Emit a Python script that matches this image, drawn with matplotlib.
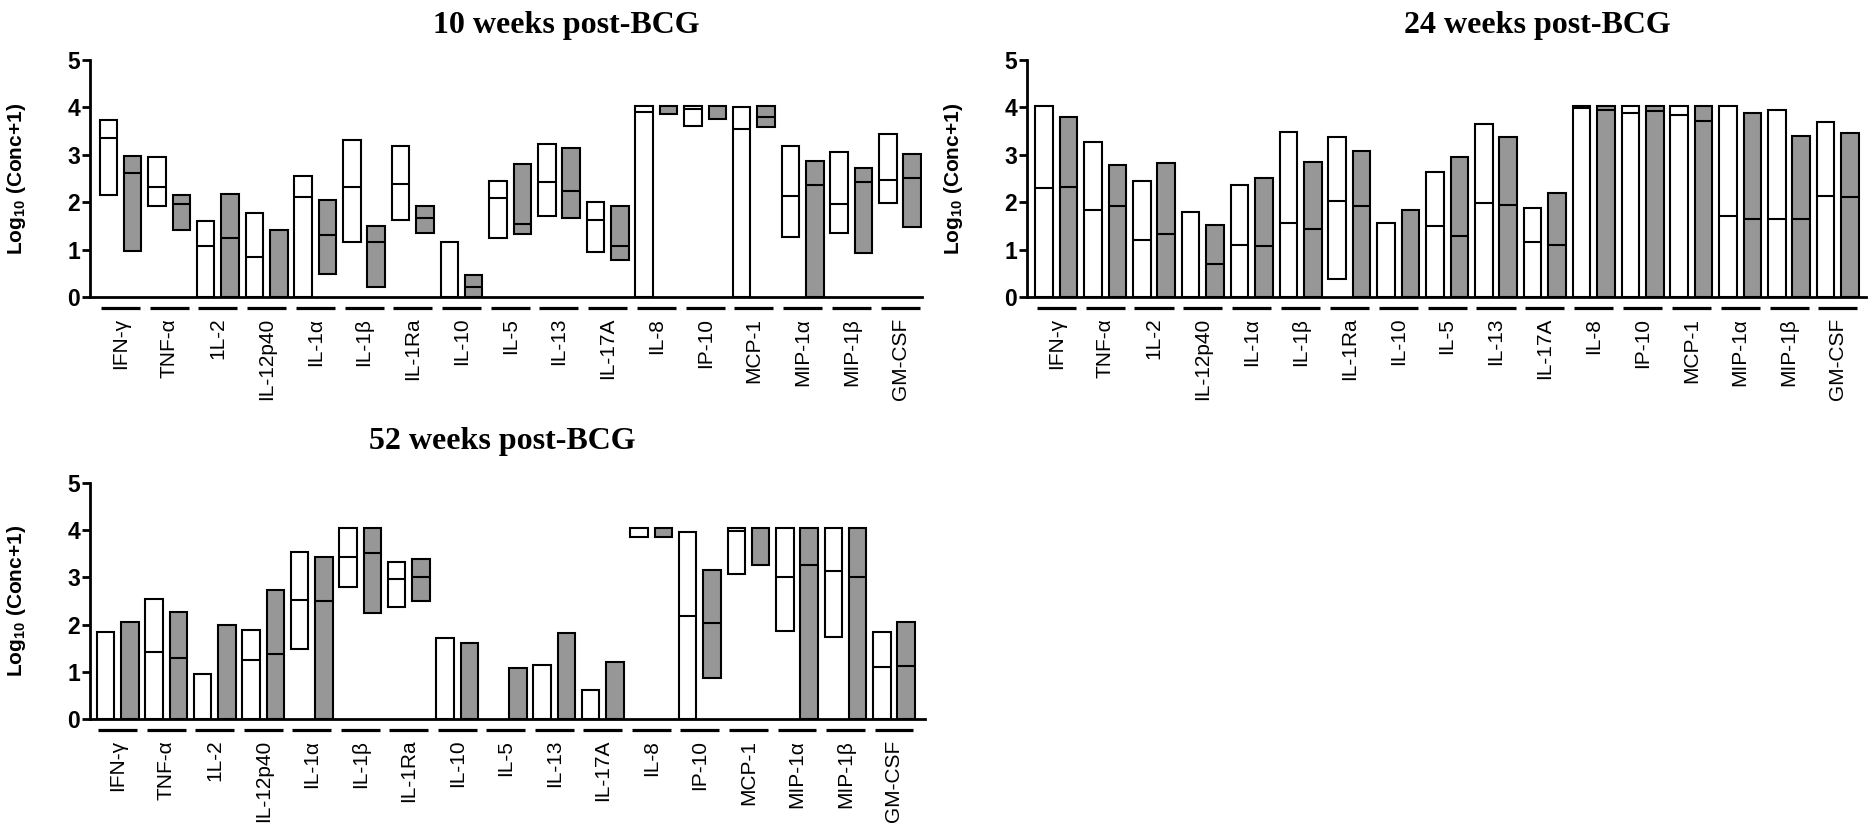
import numpy as np
import matplotlib
matplotlib.use("Agg")
import matplotlib.pyplot as plt
import matplotlib.transforms as mtransforms

plt.rcParams['font.family'] = ['Liberation Sans', 'DejaVu Sans']
plt.rcParams['mathtext.fontset'] = 'custom'
plt.rcParams['mathtext.rm'] = 'Liberation Sans'
plt.rcParams['mathtext.bf'] = 'Liberation Sans:bold'

nan = np.nan

cytokines = ['IFN-γ', 'TNF-α', '1L-2', 'IL-12p40', 'IL-1α', 'IL-1β', 'IL-1Ra',
             'IL-10', 'IL-5', 'IL-13', 'IL-17A', 'IL-8', 'IP-10', 'MCP-1',
             'MIP-1α', 'MIP-1β', 'GM-CSF']

# 10 weeks post-BCG (white = first group, grey = second group)
w10_low  = [2.16, 1.91, 0, 0, 0, 1.16, 1.62, 0, 1.24, 1.70, 0.94, 0, 3.61, 0, 1.26, 1.35, 1.99]
w10_med  = [3.35, 2.33, 1.07, 0.84, 2.10, 2.32, 2.39, nan, 2.09, 2.42, 1.63, 3.91, 3.97, 3.54, 2.13, 1.96, 2.47]
w10_high = [3.74, 2.96, 1.61, 1.77, 2.56, 3.31, 3.19, 1.17, 2.44, 3.23, 2.00, 4.02, 4.02, 4.00, 3.19, 3.05, 3.43]
g10_low  = [0.96, 1.42, 0, 0, 0.48, 0.21, 1.35, 0, 1.33, 1.66, 0.79, 3.86, 3.76, 3.58, 0, 0.93, 1.47]
g10_med  = [2.61, 1.96, 1.24, nan, 1.30, 1.16, 1.66, 0.21, 1.54, 2.23, 1.08, nan, nan, 3.79, 2.37, 2.42, 2.51]
g10_high = [2.98, 2.16, 2.17, 1.42, 2.05, 1.49, 1.93, 0.47, 2.81, 3.14, 1.91, 4.03, 4.03, 4.02, 2.86, 2.72, 3.02]

# 24 weeks post-BCG
w24_low  = [0, 0, 0, 0, 0, 0, 0.37, 0, 0, 0, 0, 0, 0, 0, 0, 0, 0]
w24_med  = [2.30, 1.83, 1.21, nan, 1.10, 1.56, 2.03, nan, 1.49, 1.99, 1.16, 3.98, 3.89, 3.83, 1.70, 1.64, 2.13]
w24_high = [4.03, 3.28, 2.44, 1.79, 2.37, 3.49, 3.38, 1.56, 2.63, 3.65, 1.87, 4.03, 4.03, 4.03, 4.03, 3.95, 3.70]
g24_low  = [0, 0, 0, 0, 0, 0, 0, 0, 0, 0, 0, 0, 0, 0, 0, 0, 0]
g24_med  = [2.32, 1.91, 1.33, 0.70, 1.07, 1.43, 1.93, nan, 1.28, 1.95, 1.10, 3.95, 3.93, 3.72, 1.64, 1.64, 2.12]
g24_high = [3.79, 2.79, 2.82, 1.52, 2.51, 2.84, 3.07, 1.83, 2.96, 3.37, 2.19, 4.03, 4.03, 4.03, 3.89, 3.40, 3.46]

# 52 weeks post-BCG
w52_low  = [0, 0, 0, 0, 1.48, 2.80, 2.38, 0, nan, 0, 0, 3.85, 0, 3.07, 1.87, 1.73, 0]
w52_med  = [nan, 1.43, nan, 1.25, 2.52, 3.44, 2.96, nan, nan, nan, nan, nan, 2.19, 3.98, 3.01, 3.14, 1.10]
w52_high = [1.85, 2.54, 0.95, 1.89, 3.54, 4.04, 3.32, 1.71, nan, 1.15, 0.61, 4.04, 3.96, 4.04, 4.04, 4.04, 1.84]
g52_low  = [0, 0, 0, 0, 0, 2.24, 2.49, 0, 0, 0, 0, 3.85, 0.87, 3.26, 0, 0, 0]
g52_med  = [nan, 1.29, nan, 1.37, 2.50, 3.51, 3.01, nan, nan, nan, nan, nan, 2.03, nan, 3.27, 3.00, 1.13]
g52_high = [2.06, 2.27, 1.99, 2.73, 3.44, 4.04, 3.40, 1.62, 1.08, 1.82, 1.20, 4.04, 3.15, 4.04, 4.04, 4.04, 2.06]

W, H = 1868, 831
fig = plt.figure(figsize=(W / 100, H / 100), dpi=100)


def add_panel(left, right, y0, y5, xlim, lows, meds, highs):
    ax = fig.add_axes([left / W, (H - y0) / H, (right - left) / W, (y0 - y5) / H])
    n = len(cytokines)
    for k, (lo, md, hi) in enumerate(zip(lows, meds, highs)):
        color = 'white' if k == 0 else '#979797'
        x = np.arange(n) * 2 + k
        lo = np.array(lo, dtype=float)
        hi = np.array(hi, dtype=float)
        md = np.array(md, dtype=float)
        ok = ~np.isnan(hi)
        ax.bar(x[ok], hi[ok] - lo[ok], bottom=lo[ok], width=0.72,
               facecolor=color, edgecolor='black', linewidth=1.5, zorder=2)
        okm = ~np.isnan(md)
        ax.hlines(md[okm], x[okm] - 0.36, x[okm] + 0.36, color='black',
                  linewidth=1.5, zorder=3)
    ax.set_xlim(*xlim)
    ax.set_ylim(0, 5)
    ax.spines['top'].set_visible(False)
    ax.spines['right'].set_visible(False)
    ax.spines['left'].set_linewidth(2)
    ax.spines['bottom'].set_linewidth(2)
    ax.set_yticks(range(6))
    ax.set_yticklabels([str(v) for v in range(6)], fontsize=16.5, fontweight='bold')
    ax.tick_params(axis='y', direction='out', length=6, width=2, pad=1)
    centers = np.arange(n) * 2 + 0.5
    ax.set_xticks(centers)
    ax.set_xticklabels(cytokines, rotation=90, fontsize=15, ha='center', va='top')
    ax.tick_params(axis='x', length=0, pad=15)
    # group underlines
    trans = mtransforms.blended_transform_factory(ax.transData, ax.transAxes)
    off = -11 / (y0 - y5)
    for c in centers:
        ax.plot([c - 0.8, c + 0.8], [off, off], color='black', linewidth=2.3,
                transform=trans, clip_on=False, solid_capstyle='butt')
    ax.set_ylabel(r'Log$_{\mathbf{10}}$ (Conc+1)', fontsize=15, fontweight='bold')
    ax.yaxis.set_label_coords(-62 / (right - left), 0.5)
    return ax


add_panel(90, 922, 297, 60, (-0.75, 33.4),
          [w10_low, g10_low], [w10_med, g10_med], [w10_high, g10_high])
add_panel(1027, 1866, 297, 60, (-0.7, 33.65),
          [w24_low, g24_low], [w24_med, g24_med], [w24_high, g24_high])
add_panel(90, 925, 719, 483, (-0.64, 33.78),
          [w52_low, g52_low], [w52_med, g52_med], [w52_high, g52_high])

title_kw = dict(family=['Liberation Serif', 'DejaVu Serif'], fontweight='bold',
                fontsize=23, ha='center', va='center')
fig.text(566 / W, 1 - 25 / H, '10 weeks post-BCG', **title_kw)
fig.text(1537 / W, 1 - 25 / H, '24 weeks post-BCG', **title_kw)
fig.text(502 / W, 1 - 442 / H, '52 weeks post-BCG', **title_kw)

fig.savefig('out.png', dpi=100)
